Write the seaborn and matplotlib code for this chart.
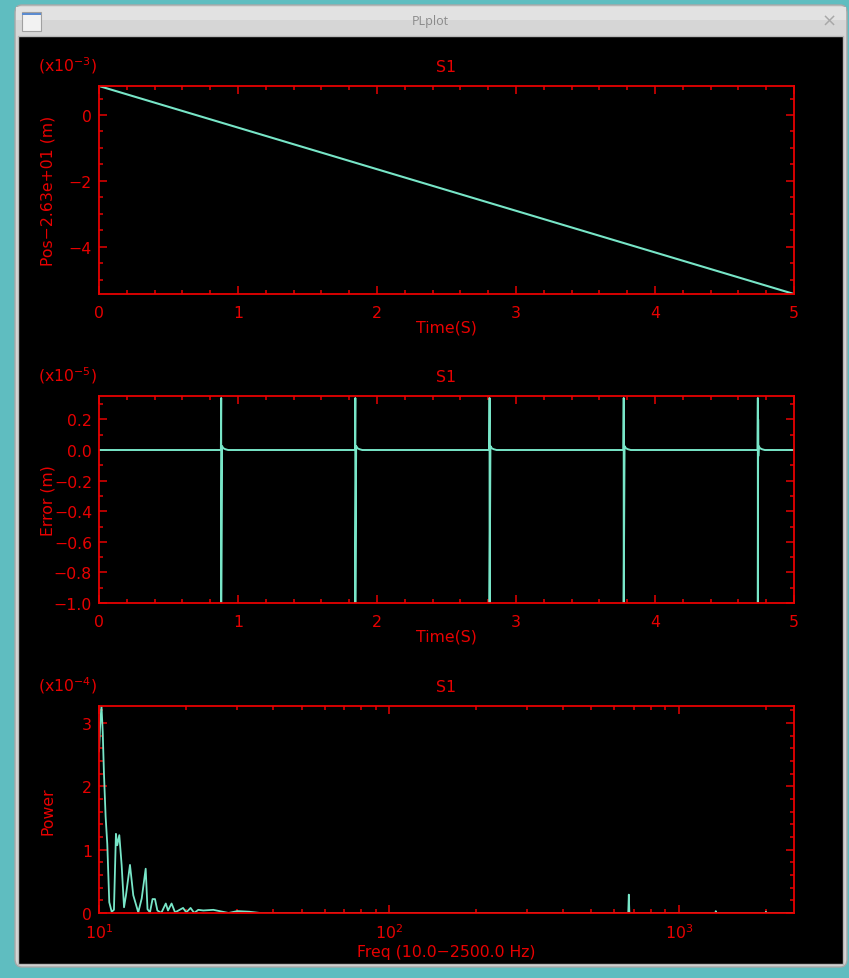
import numpy as np
import pandas as pd
import seaborn as sns
import matplotlib.pyplot as plt
from matplotlib.patches import FancyBboxPatch, Rectangle
from matplotlib.ticker import MultipleLocator, LogLocator, FuncFormatter, NullFormatter

# ---- data ----
# plot 1: position (x1e-3 m, offset -2.63e+01) vs time
pos_time = [0.0, 5.0]
pos_val = [0.88, -5.44]

# plot 2: error (x1e-5 m) vs time, flat except spikes
spike_time = [0.879, 1.844, 2.81, 3.775, 4.74]
spike_top = [0.34, 0.34, 0.34, 0.34, 0.34]
spike_bottom = [-1.0, -1.0, -1.0, -1.0, -1.0]
ring_dt = [0.006, 0.015, 0.03, 0.05]
ring_val = [0.026, 0.012, 0.005, 0.0]
spike5_extra = [0.2, -0.04]

# plot 3: power spectrum (x1e-4) vs frequency
freq = [10.0, 10.1, 10.2, 10.3, 10.4, 10.54, 10.68, 10.85, 11.06, 11.26, 11.44,
        11.56, 11.75, 11.97, 12.2, 12.39, 12.79, 13.13, 13.66, 14.04, 14.49,
        14.7, 14.99, 15.3, 15.6, 15.9, 16.4, 17.0, 17.3, 17.8, 18.3, 19.5,
        20.0, 20.7, 21.3, 22.0, 22.9, 24.8, 28.0, 30.0, 33.0, 36.0,
        670.0, 673.0, 676.0, 1340.0, 1343.0, 1346.0, 1995.0, 2000.0, 2005.0, 2500.0]
power = [2.55, 3.0, 3.27, 2.86, 2.21, 1.52, 1.09, 0.17, 0.02, 0.05, 1.25,
         1.07, 1.23, 0.76, 0.09, 0.28, 0.76, 0.28, 0.01, 0.23, 0.70,
         0.06, 0.01, 0.22, 0.22, 0.04, 0.0, 0.15, 0.04, 0.15, 0.01, 0.08,
         0.01, 0.08, 0.0, 0.05, 0.04, 0.05, 0.0, 0.03, 0.02, 0.0,
         0.0, 0.29, 0.0, 0.0, 0.03, 0.0, 0.0, 0.02, 0.0, 0.0]

# build error trace from the spike lists
err_t, err_v = [0.0], [0.0]
for i, t in enumerate(spike_time):
    err_t += [t - 0.002, t, t]
    err_v += [0.0, spike_top[i], spike_bottom[i]]
    if i == 4:
        err_t += [t + 0.002, t + 0.003]
        err_v += spike5_extra
    err_t += [t + d for d in ring_dt]
    err_v += ring_val
err_t.append(5.0)
err_v.append(0.0)

RED = "#e80000"
LINE = "#78e6c8"
W, H = 849, 979

sns.set_style("dark")
plt.rcParams["font.family"] = ["DejaVu Sans"]
plt.rcParams["mathtext.fontset"] = "dejavusans"


def fx(x):
    return x / W


def fy(y):
    return 1 - y / H


fig = plt.figure(figsize=(8.49, 9.79), dpi=100)
fig.patch.set_facecolor("#5fbdc0")

# window frame
fig.patches.append(FancyBboxPatch((fx(15), fy(968)), fx(847) - fx(15), fy(6) - fy(968),
                                  boxstyle="round,pad=0,rounding_size=0.008",
                                  transform=fig.transFigure, fc="#d6d6d6", ec="#a8a8a8",
                                  lw=1, zorder=-10))
fig.patches.append(Rectangle((fx(16), fy(21)), fx(846) - fx(16), 13 / H, transform=fig.transFigure,
                             fc="#e2e2e2", ec="none", zorder=-9))
fig.patches.append(Rectangle((fx(18), fy(965)), fx(843) - fx(18), fy(37) - fy(965),
                             transform=fig.transFigure, fc="black", ec="#b8b8b8", lw=1, zorder=-8))
fig.patches.append(Rectangle((fx(22), fy(32)), 19 / W, 19 / H, transform=fig.transFigure,
                             fc="#f2f2f2", ec="#a0a0a0", lw=0.8, zorder=-7))
fig.patches.append(Rectangle((fx(22), fy(16)), 19 / W, 2 / H, transform=fig.transFigure,
                             fc="#5b8bd0", ec="none", zorder=-6))
fig.text(fx(430), fy(22), "PLplot", ha="center", va="center", fontsize=9,
         color="#8a8a8a", family="Open Sans")
fig.text(fx(829), fy(22), "\u00d7", ha="center", va="center", fontsize=13, color="#a8a8a8")


def setup(ax, top, ylabel, xlabel, mult):
    ax.set_facecolor("black")
    for s in ax.spines.values():
        s.set_color(RED)
        s.set_linewidth(1.3)
        s.set_visible(True)
    ax.tick_params(which="both", direction="in", top=True, right=True, bottom=True, left=True,
                   colors=RED, labelcolor=RED, labelsize=11.3, width=1.1)
    ax.tick_params(which="major", length=6, pad=5)
    ax.tick_params(which="minor", length=3)
    ax.grid(False)
    ax.set_title("S1", color=RED, fontsize=11.3, pad=11)
    fig.text(fx(48), fy(top + 104), ylabel, rotation=90, ha="center", va="center",
             color=RED, fontsize=11.3)
    fig.text(fx(97), fy(top - 21), "(x10$^{%d}$)" % mult, ha="right", va="center",
             color=RED, fontsize=11.3)
    ax.set_xlabel(xlabel, color=RED, fontsize=11.3)


# plot 1
ax1 = fig.add_axes([fx(99), fy(295), (794 - 99) / W, (295 - 87) / H])
sns.lineplot(x=pos_time, y=pos_val, ax=ax1, color=LINE, lw=1.5, estimator=None, sort=False)
ax1.set_xlim(0, 5)
ax1.set_ylim(pos_val[1], pos_val[0])
ax1.xaxis.set_major_locator(MultipleLocator(1))
ax1.xaxis.set_minor_locator(MultipleLocator(0.2))
ax1.yaxis.set_major_locator(MultipleLocator(2))
ax1.yaxis.set_minor_locator(MultipleLocator(0.5))
setup(ax1, 87, "Pos\u22122.63e+01 (m)", "Time(S)", -3)
ax1.tick_params(axis="x", which="major", pad=8)
ax1.xaxis.set_label_coords(0.5, -0.16)
ax1.xaxis.label.set_va("center")

# plot 2
ax2 = fig.add_axes([fx(99), fy(604), (794 - 99) / W, (604 - 397) / H])
sns.lineplot(x=err_t, y=err_v, ax=ax2, color=LINE, lw=1.4, estimator=None, sort=False)
ax2.set_xlim(0, 5)
ax2.set_ylim(-1.0, 0.353)
ax2.xaxis.set_major_locator(MultipleLocator(1))
ax2.xaxis.set_minor_locator(MultipleLocator(0.2))
ax2.yaxis.set_major_locator(MultipleLocator(0.2))
ax2.yaxis.set_minor_locator(MultipleLocator(0.1))
ax2.yaxis.set_major_formatter(FuncFormatter(lambda v, p: ("%.1f" % v).replace("-", "\u2212")))
setup(ax2, 397, "Error (m)", "Time(S)", -5)
ax2.tick_params(axis="x", which="major", pad=8)
ax2.xaxis.set_label_coords(0.5, -0.16)
ax2.xaxis.label.set_va("center")

# plot 3
ax3 = fig.add_axes([fx(99), fy(914), (794 - 99) / W, (914 - 707) / H])
sns.lineplot(x=freq, y=power, ax=ax3, color=LINE, lw=1.3, estimator=None, sort=False)
ax3.set_xscale("log")
ax3.set_xlim(10, 2500)
ax3.set_ylim(0, 3.27)
ax3.xaxis.set_major_locator(LogLocator(base=10))
ax3.xaxis.set_minor_locator(LogLocator(base=10, subs=np.arange(2, 10)))
ax3.xaxis.set_minor_formatter(NullFormatter())
ax3.yaxis.set_major_locator(MultipleLocator(1))
ax3.yaxis.set_minor_locator(MultipleLocator(0.2))
setup(ax3, 707, "Power", "Freq (10.0\u22122500.0 Hz)", -4)
ax3.tick_params(axis="x", which="major", pad=6.5)
ax3.xaxis.set_label_coords(0.5, -0.185)
ax3.xaxis.label.set_va("center")

fig.savefig("out.png", dpi=100, facecolor=fig.get_facecolor())
